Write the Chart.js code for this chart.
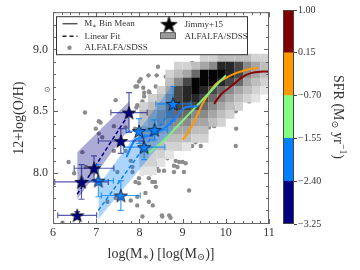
<!DOCTYPE html>
<html>
<head>
<meta charset="utf-8">
<script src="https://cdn.jsdelivr.net/npm/chart.js@4.4.1/dist/chart.umd.min.js"></script>
<style>
html, body { margin: 0; padding: 0; background: #fff; }
#wrap { position: relative; width: 360px; height: 270px; }
#main { position: absolute; left: 0; top: 0; }
#cbar { position: absolute; left: 270px; top: 0; }
</style>
</head>
<body>
<div id="wrap">
  <canvas id="main" width="360" height="270"></canvas>
  <canvas id="cbar" width="90" height="270"></canvas>
</div>
<script>
// axis ticks
const X_TICKS = [6, 7, 8, 9, 10, 11];
const Y_TICKS = [8.0, 8.5, 9.0];
const SFR_EDGES = [-3.25, -2.40, -1.55, -0.70, 0.15, 1.00];
const SFR_COLORS = ['#000080', '#0080ff', '#80ff80', '#ff9900', '#800000'];

// ALFALFA/SDSS individual galaxies
const DOT_MASS = [6.74, 7.45, 7.06, 6.99, 7.99, 8.21, 8.09, 8.38, 8.24, 8.34, 8.45, 8.31, 8.07, 8.14, 8.43,
  8.41, 7.68, 8.40, 7.91, 8.11, 8.22, 8.11, 7.95, 7.10, 7.06, 7.14, 7.41, 7.90, 8.18, 6.68, 6.49, 6.76,
  7.41, 7.68, 7.80, 7.84, 7.49, 7.99, 8.14, 8.22, 7.95, 8.38, 8.26, 7.45, 7.26, 8.18, 8.38, 6.22, 6.36,
  7.80, 7.95, 8.31, 8.52, 8.69, 8.07, 7.84, 7.99, 8.22, 8.36, 9.22, 9.30, 9.42, 9.61, 9.80, 10.24, 10.23,
  8.84, 8.92, 9.00, 8.80, 9.07, 9.03, 8.80, 8.38, 8.45, 8.30, 9.15, 8.53, 8.72, 8.61, 8.80, 8.96, 8.84,
  9.22, 9.88, 10.85, 10.19, 9.73, 10.54, 10.65, 10.69, 10.27, 10.31, 10.23, 9.61, 9.33, 10.93, 9.96, 10.50,
  10.61, 10.61, 10.77, 10.85, 10.69, 10.31, 10.15, 9.88, 10.96, 8.03, 7.95, 8.03, 7.93, 8.65, 8.69, 9.11,
  8.88, 8.57, 8.41, 8.07, 7.91, 8.65, 9.19];
const DOT_OH = [8.49, 8.59, 8.42, 8.36, 8.74, 8.79, 8.69, 8.70, 8.64, 8.62, 8.58, 8.54, 8.58, 8.50, 8.86,
  8.46, 8.37, 8.79, 8.70, 8.65, 8.66, 8.62, 8.55, 8.41, 8.32, 8.29, 8.38, 8.36, 8.44, 8.17, 8.00, 8.05,
  8.18, 8.18, 8.10, 8.01, 8.01, 7.92, 7.84, 7.77, 7.81, 7.89, 8.00, 7.80, 7.77, 8.14, 8.08, 7.60, 8.09,
  7.78, 7.74, 7.74, 7.66, 7.66, 7.65, 8.05, 7.96, 7.96, 7.93, 8.22, 8.25, 8.22, 8.40, 8.41, 8.36, 8.22,
  8.10, 8.09, 8.09, 8.06, 8.08, 8.01, 8.01, 8.04, 8.02, 7.93, 7.86, 7.65, 7.64, 8.78, 8.77, 8.81, 8.73,
  8.89, 8.90, 8.92, 8.53, 8.38, 8.58, 8.60, 8.62, 8.58, 8.54, 8.50, 8.37, 8.40, 8.80, 8.92, 8.72,
  8.70, 8.66, 8.72, 8.73, 8.68, 8.61, 8.52, 8.50, 8.90, 8.76, 8.70, 8.54, 8.53, 8.72, 8.68, 8.81,
  8.05, 8.02, 8.05, 8.00, 7.93, 8.12, 8.22];

// ALFALFA/SDSS 2D histogram (bin centres and grey level 0-9)
const HIST_BIN_W = 0.2;
const HIST_MASS = [8.1, 8.3, 8.5, 8.7, 8.9, 9.1, 9.3, 9.5, 9.7, 9.9, 10.1, 10.3, 10.5, 10.7, 10.9];
const HIST_OH = [8.93, 8.865, 8.80, 8.735, 8.67, 8.605, 8.54, 8.475, 8.41, 8.345, 8.28, 8.215, 8.15, 8.085, 8.02];
const HIST_LEVEL = [
  [0, 0, 0, 0, 0, 0, 0, 2, 2, 3, 3, 3, 3, 2, 2],
  [0, 0, 0, 0, 2, 2, 3, 4, 5, 8, 8, 7, 5, 4, 3],
  [0, 0, 0, 2, 3, 4, 6, 9, 9, 9, 8, 7, 5, 4, 3],
  [0, 0, 0, 3, 5, 7, 9, 9, 9, 8, 7, 6, 4, 3, 2],
  [0, 0, 2, 4, 7, 8, 9, 8, 7, 6, 5, 4, 3, 2, 1],
  [0, 2, 3, 5, 7, 8, 8, 7, 6, 5, 4, 3, 2, 1, 0],
  [2, 3, 4, 6, 7, 7, 7, 6, 5, 4, 3, 2, 0, 0, 0],
  [3, 4, 5, 6, 6, 6, 5, 5, 4, 3, 2, 0, 0, 0, 0],
  [3, 4, 5, 5, 5, 5, 4, 4, 3, 2, 0, 0, 0, 0, 0],
  [4, 4, 4, 4, 4, 4, 3, 3, 0, 0, 0, 0, 0, 0, 0],
  [4, 4, 3, 3, 3, 3, 2, 2, 0, 0, 0, 0, 0, 0, 0],
  [3, 3, 3, 2, 2, 1, 0, 0, 0, 0, 0, 0, 0, 0, 0],
  [3, 2, 2, 1, 0, 0, 0, 0, 0, 0, 0, 0, 0, 0, 0],
  [2, 2, 1, 0, 0, 0, 0, 0, 0, 0, 0, 0, 0, 0, 0],
  [1, 1, 0, 0, 0, 0, 0, 0, 0, 0, 0, 0, 0, 0, 0]
];
const GREYS = ['#ffffff', '#e3e3e3', '#d2d2d2', '#bebebe', '#a6a6a6', '#8a8a8a', '#6a6a6a', '#474747', '#262626', '#050505'];

// Jimmy+15 galaxies, lowest SFR bin (navy) and next bin (blue)
const LOW_MASS = [6.56, 6.66, 6.95, 7.57, 7.76];
const LOW_OH = [7.66, 7.93, 8.04, 8.26, 8.49];
const LOW_XERR = [0.45, 0.62, 0.46, 0.52, 0.42];
const LOW_YERR = [0.03, 0.14, 0.10, 0.10, 0.16];
const MID_MASS = [7.05, 7.57, 7.99, 8.11, 8.35, 8.78];
const MID_OH = [7.94, 7.82, 8.34, 8.21, 8.35, 8.56];
const MID_XERR = [0.35, 0.45, 0.30, 0.48, 0.30, 0.40];
const MID_YERR = [0.13, 0.12, 0.10, 0.10, 0.08, 0.14];

// linear fits with uncertainty bands
const LOW_FIT_MASS = [6.56, 7.76];
const LOW_FIT_UPPER = [8.17, 8.58];
const LOW_FIT_LOWER = [7.79, 8.36];
const LOW_FIT_MID = [7.83, 8.48];
const MID_FIT_MASS = [7.05, 8.78];
const MID_FIT_UPPER = [7.90, 8.72];
const MID_FIT_LOWER = [7.63, 8.36];
const MID_FIT_MID = [7.70, 8.53];

// M* bin means of ALFALFA/SDSS per SFR bin
const BLUE_MEAN_MASS = [7.70, 7.90, 8.10, 8.35, 8.60, 8.85, 9.05, 9.35];
const BLUE_MEAN_OH = [8.13, 8.27, 8.29, 8.32, 8.37, 8.45, 8.53, 8.54];
const GREEN_MEAN_MASS = [8.20, 8.45, 8.65, 8.80, 9.10, 9.40, 9.70, 10.00];
const GREEN_MEAN_OH = [8.16, 8.23, 8.29, 8.35, 8.46, 8.57, 8.68, 8.79];
const ORANGE_MEAN_MASS = [9.00, 9.15, 9.30, 9.46, 9.62, 9.77, 10.00, 10.25, 10.54, 10.75];
const ORANGE_MEAN_OH = [8.27, 8.34, 8.44, 8.56, 8.65, 8.72, 8.77, 8.81, 8.84, 8.85];
const RED_MEAN_MASS = [9.73, 9.90, 10.15, 10.40, 10.60, 10.80, 11.00];
const RED_MEAN_OH = [8.56, 8.64, 8.71, 8.78, 8.81, 8.82, 8.82];

const FONT = '"Liberation Serif", "DejaVu Serif", serif';
Chart.defaults.font.family = FONT;
Chart.defaults.color = '#333';

const pts = (xs, ys) => xs.map((x, i) => ({ x: x, y: ys[i] }));

function starCanvas(fill, size) {
    const c = document.createElement('canvas');
    c.width = c.height = size;
    const g = c.getContext('2d');
    const R = size / 2 - 1, r = R * 0.4, cx = size / 2, cy = size / 2 + R * 0.1;
    g.beginPath();
    for (let i = 0; i < 10; i++) {
        const a = -Math.PI / 2 + i * Math.PI / 5;
        const rr = i % 2 ? r : R;
        g.lineTo(cx + rr * Math.cos(a), cy + rr * Math.sin(a));
    }
    g.closePath();
    g.fillStyle = fill;
    g.fill();
    g.strokeStyle = '#111';
    g.lineWidth = 0.8;
    g.stroke();
    return c;
}

// text with sub/superscripts, centred on (cx, cy)
function drawRich(ctx, parts, cx, cy, size, rot) {
    ctx.save();
    ctx.translate(cx, cy);
    ctx.rotate(rot || 0);
    const fs = p => (p.sub || p.sup) ? size * 0.7 : size;
    let w = 0;
    parts.forEach(p => { ctx.font = fs(p) + 'px ' + FONT; w += ctx.measureText(p.t).width; });
    let x = -w / 2;
    ctx.textAlign = 'left';
    ctx.textBaseline = 'middle';
    ctx.fillStyle = '#333';
    parts.forEach(p => {
        ctx.font = fs(p) + 'px ' + FONT;
        const dy = p.sub ? size * 0.28 : p.sup ? -size * 0.32 : 0;
        ctx.fillText(p.t, x, dy);
        x += ctx.measureText(p.t).width;
    });
    ctx.restore();
}

const histData = [];
HIST_LEVEL.forEach((row, i) => row.forEach((v, j) => {
    if (v > 0) histData.push({ x: HIST_MASS[j], y: HIST_OH[i], v: v });
}));

const navyStar = starCanvas('#000080', 16);
const blueStar = starCanvas('#0a80ff', 16);
const legendStar = starCanvas('#000000', 19);

const errorBars = {
    id: 'errorBars',
    beforeDatasetDraw(chart, args) {
        const ds = chart.data.datasets[args.index];
        if (!ds.errX) return;
        const { ctx, chartArea: a, scales: { x, y } } = chart;
        ctx.save();
        ctx.beginPath();
        ctx.rect(a.left, a.top, a.right - a.left, a.bottom - a.top);
        ctx.clip();
        ctx.strokeStyle = ds.errColor;
        ctx.lineWidth = 1.2;
        ds.data.forEach((p, i) => {
            const px = x.getPixelForValue(p.x), py = y.getPixelForValue(p.y);
            const x0 = x.getPixelForValue(p.x - ds.errX[i]), x1 = x.getPixelForValue(p.x + ds.errX[i]);
            const y0 = y.getPixelForValue(p.y - ds.errY[i]), y1 = y.getPixelForValue(p.y + ds.errY[i]);
            ctx.beginPath();
            ctx.moveTo(x0, py); ctx.lineTo(x1, py);
            ctx.moveTo(x0, py - 3); ctx.lineTo(x0, py + 3);
            ctx.moveTo(x1, py - 3); ctx.lineTo(x1, py + 3);
            ctx.moveTo(px, y0); ctx.lineTo(px, y1);
            ctx.moveTo(px - 3, y0); ctx.lineTo(px + 3, y0);
            ctx.moveTo(px - 3, y1); ctx.lineTo(px + 3, y1);
            ctx.stroke();
        });
        ctx.restore();
    }
};

const frame = {
    id: 'frame',
    afterDatasetsDraw(chart) {
        const { ctx, chartArea: a, scales: { x, y } } = chart;
        ctx.save();
        ctx.strokeStyle = '#666';
        ctx.lineWidth = 1;
        ctx.strokeRect(a.left + 0.5, a.top + 0.5, a.right - a.left - 1, a.bottom - a.top - 1);
        ctx.beginPath();
        for (let v = 6; v <= 11.001; v += 0.2) {
            const px = Math.round(x.getPixelForValue(v)) + 0.5;
            const len = Math.abs(v - Math.round(v)) < 0.01 ? 5 : 3;
            ctx.moveTo(px, a.bottom); ctx.lineTo(px, a.bottom - len);
            ctx.moveTo(px, a.top); ctx.lineTo(px, a.top + len);
        }
        for (let v = 7.6; v <= 9.301; v += 0.1) {
            const py = Math.round(y.getPixelForValue(v)) + 0.5;
            const len = Math.abs(v * 2 - Math.round(v * 2)) < 0.01 ? 5 : 3;
            ctx.moveTo(a.left, py); ctx.lineTo(a.left + len, py);
            ctx.moveTo(a.right, py); ctx.lineTo(a.right - len, py);
        }
        ctx.stroke();
        ctx.restore();
    },
    afterDraw(chart) {
        const { ctx, chartArea: a, scales: { y } } = chart;
        // legend box
        const lx = a.left + 3.5, ly = a.top + 4.5;
        ctx.save();
        ctx.fillStyle = 'rgba(255,255,255,0.9)';
        ctx.strokeStyle = '#333';
        ctx.lineWidth = 1;
        ctx.fillRect(lx, ly, 191, 38);
        ctx.strokeRect(lx, ly, 191, 38);
        ctx.strokeStyle = '#555';
        ctx.lineWidth = 1.5;
        ctx.beginPath(); ctx.moveTo(lx + 6, ly + 7); ctx.lineTo(lx + 21, ly + 7); ctx.stroke();
        ctx.strokeStyle = '#222';
        ctx.setLineDash([4, 3]);
        ctx.beginPath(); ctx.moveTo(lx + 6, ly + 19.5); ctx.lineTo(lx + 21, ly + 19.5); ctx.stroke();
        ctx.setLineDash([]);
        ctx.fillStyle = '#8c8c8c';
        ctx.beginPath(); ctx.arc(lx + 13, ly + 31, 2.2, 0, Math.PI * 2); ctx.fill();
        ctx.drawImage(legendStar, lx + 103, ly - 2);
        ctx.fillStyle = '#9a9a9a';
        ctx.strokeStyle = '#444';
        ctx.lineWidth = 0.8;
        ctx.fillRect(lx + 104, ly + 16, 15, 6);
        ctx.strokeRect(lx + 104, ly + 16, 15, 6);
        ctx.restore();
        drawRich(ctx, [{ t: 'M' }, { t: '∗', sub: 1 }, { t: ' Bin Mean' }], lx + 28 + 25, ly + 7, 9);
        ctx.save();
        ctx.font = '9px ' + FONT;
        ctx.fillStyle = '#333';
        ctx.textBaseline = 'middle';
        ctx.fillText('Linear Fit', lx + 28, ly + 19.5);
        ctx.fillText('ALFALFA/SDSS', lx + 28, ly + 31);
        ctx.fillText('Jimmy+15', lx + 128, ly + 7.5);
        ctx.fillText('ALFALFA/SDSS', lx + 128, ly + 19.5);
        ctx.font = '8px ' + FONT;
        ctx.fillStyle = '#666';
        ctx.textAlign = 'center';
        ctx.fillText('⊙', a.left - 6, y.getPixelForValue(8.67));
        ctx.restore();
        // x axis title
        drawRich(ctx, [{ t: 'log(M' }, { t: '∗', sub: 1 }, { t: ') [log(M' }, { t: '⊙', sub: 1 }, { t: ')]' }],
            (a.left + a.right) / 2, 254, 14);
    }
};

const lineDs = (xs, ys, color, extra) => Object.assign({
    data: pts(xs, ys), showLine: true, pointRadius: 0, borderColor: color,
    borderWidth: 2, backgroundColor: color, fill: false
}, extra || {});

new Chart(document.getElementById('main'), {
    type: 'scatter',
    data: {
        datasets: [
            { data: pts(LOW_MASS, LOW_OH), pointStyle: navyStar, pointRadius: 8, order: 0,
              errX: LOW_XERR, errY: LOW_YERR, errColor: 'rgba(20,20,140,0.7)' },
            { data: pts(MID_MASS, MID_OH), pointStyle: blueStar, pointRadius: 8, order: 0,
              errX: MID_XERR, errY: MID_YERR, errColor: 'rgba(0,128,255,0.75)' },
            lineDs(BLUE_MEAN_MASS, BLUE_MEAN_OH, '#1a80ff', { tension: 0.3, order: 1 }),
            lineDs(GREEN_MEAN_MASS, GREEN_MEAN_OH, '#80f080', { tension: 0.3, order: 1 }),
            lineDs(ORANGE_MEAN_MASS, ORANGE_MEAN_OH, '#ff9900', { tension: 0.3, order: 1 }),
            lineDs(RED_MEAN_MASS, RED_MEAN_OH, '#8b0000', { tension: 0.3, order: 1 }),
            lineDs(LOW_FIT_MASS, LOW_FIT_MID, '#000080', { borderDash: [4, 2.5], borderWidth: 1.5, order: 2 }),
            lineDs(MID_FIT_MASS, MID_FIT_MID, '#0080ff', { borderDash: [4, 2.5], borderWidth: 1.5, order: 2 }),
            lineDs(LOW_FIT_MASS, LOW_FIT_UPPER, 'rgba(0,0,0,0)', { borderWidth: 0, order: 3 }),
            lineDs(LOW_FIT_MASS, LOW_FIT_LOWER, 'rgba(0,0,0,0)',
                { borderWidth: 0, order: 3, fill: '-1', backgroundColor: 'rgba(0,0,128,0.33)' }),
            lineDs(MID_FIT_MASS, MID_FIT_UPPER, 'rgba(0,0,0,0)', { borderWidth: 0, order: 3 }),
            lineDs(MID_FIT_MASS, MID_FIT_LOWER, 'rgba(0,0,0,0)',
                { borderWidth: 0, order: 3, fill: '-1', backgroundColor: 'rgba(0,128,255,0.33)' }),
            { data: histData, pointStyle: 'rect', borderWidth: 0, order: 4,
              backgroundColor: c => GREYS[c.raw ? c.raw.v : 0],
              pointRadius: c => {
                  const xs = c.chart.scales.x;
                  return Math.abs(xs.getPixelForValue(HIST_BIN_W) - xs.getPixelForValue(0)) / Math.SQRT2;
              } },
            { data: pts(DOT_MASS, DOT_OH), pointRadius: 2.2, backgroundColor: '#8c8c8c',
              borderWidth: 0, order: 5 }
        ]
    },
    options: {
        responsive: false,
        animation: false,
        layout: { padding: { top: 10, right: 91, left: 0, bottom: 0 } },
        plugins: { legend: { display: false }, tooltip: { enabled: false } },
        scales: {
            x: {
                type: 'linear', min: 6, max: 11, position: 'bottom',
                afterBuildTicks: s => { s.ticks = X_TICKS.map(v => ({ value: v })); },
                afterFit: s => { s.height = 46; },
                grid: { display: false, drawTicks: false },
                border: { display: false },
                ticks: { padding: 2, font: { size: 12 }, color: '#333', callback: v => String(v) }
            },
            y: {
                type: 'linear', min: 7.59, max: 9.30,
                afterBuildTicks: s => { s.ticks = Y_TICKS.map(v => ({ value: v })); },
                afterFit: s => { s.width = 53; },
                grid: { display: false, drawTicks: false },
                border: { display: false },
                ticks: { padding: 5, font: { size: 12 }, color: '#333', callback: v => v.toFixed(1) },
                title: { display: true, text: '12+log(O/H)', font: { size: 14 }, color: '#333',
                         padding: { top: 11, bottom: 0 } }
            }
        }
    },
    plugins: [errorBars, frame]
});

const cbarFrame = {
    id: 'cbarFrame',
    afterDatasetsDraw(chart) {
        const { ctx, chartArea: a } = chart;
        ctx.save();
        ctx.strokeStyle = '#444';
        ctx.lineWidth = 1;
        ctx.strokeRect(a.left + 0.5, a.top + 0.5, a.right - a.left - 1, a.bottom - a.top - 1);
        ctx.restore();
        drawRich(ctx, [{ t: 'SFR (M' }, { t: '⊙', sub: 1 }, { t: ' yr' }, { t: '−1', sup: 1 }, { t: ')' }],
            68, (a.top + a.bottom) / 2, 14, Math.PI / 2);
    }
};

new Chart(document.getElementById('cbar'), {
    type: 'bar',
    data: {
        labels: ['SFR'],
        datasets: SFR_COLORS.map((c, i) => ({
            data: [[SFR_EDGES[i], SFR_EDGES[i + 1]]],
            backgroundColor: c, borderWidth: 0, grouped: false,
            barPercentage: 1, categoryPercentage: 1
        }))
    },
    options: {
        responsive: false,
        animation: false,
        layout: { padding: { left: 13, top: 10, bottom: 46, right: 0 } },
        plugins: { legend: { display: false }, tooltip: { enabled: false } },
        scales: {
            x: { display: false },
            y: {
                position: 'right', min: -3.25, max: 1.0,
                afterBuildTicks: s => { s.ticks = SFR_EDGES.map(v => ({ value: v })); },
                afterFit: s => { s.width = 66; },
                grid: { drawOnChartArea: false, tickLength: 3, color: '#444' },
                border: { display: false },
                ticks: { padding: 1, font: { size: 10 }, color: '#333',
                         callback: v => (v < 0 ? '\u2212' : '') + Math.abs(v).toFixed(2) }
            }
        }
    },
    plugins: [cbarFrame]
});
</script>
</body>
</html>
